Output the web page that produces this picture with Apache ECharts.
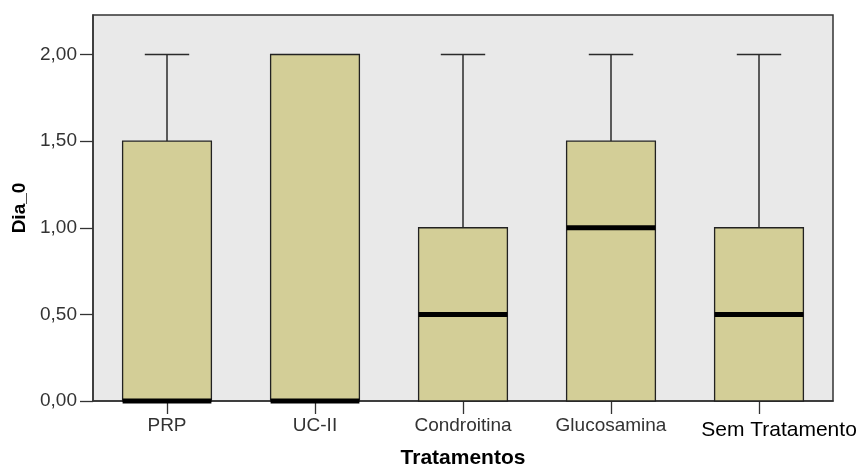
<!DOCTYPE html>
<html>
<head>
<meta charset="utf-8">
<script src="https://cdn.jsdelivr.net/npm/echarts@6/dist/echarts.min.js"></script>
<style>
  html, body { margin: 0; padding: 0; background: #ffffff; }
  #chart { width: 861px; height: 464px; }
</style>
</head>
<body>
<div id="chart"></div>
<script>
// Box-plot summary per treatment (Dia_0)
const categories = ['PRP', 'UC-II', 'Condroitina', 'Glucosamina', 'Sem Tratamento'];
const minVals    = [0, 0, 0, 0, 0];
const q1Vals     = [0, 0, 0, 0, 0];
const medianVals = [0, 0, 0.5, 1, 0.5];
const q3Vals     = [1.5, 2, 1, 1.5, 1];
const maxVals    = [2, 2, 2, 2, 2];
const yTicks     = [0, 0.5, 1, 1.5, 2];

const boxData = categories.map((c, i) => [i, minVals[i], q1Vals[i], medianVals[i], q3Vals[i], maxVals[i]]);

const FILL = '#d3ce97';
const EDGE = '#222222';

function renderBox(params, api) {
  const i = api.value(0);
  const vMin = api.value(1), vQ1 = api.value(2), vMed = api.value(3), vQ3 = api.value(4), vMax = api.value(5);
  const bandW = api.size([1, 0])[0];
  const boxW = bandW * 0.6;
  const capW = boxW * 0.5;
  const cx = api.coord([i, 0])[0];
  const yMin = api.coord([i, vMin])[1];
  const yQ1 = api.coord([i, vQ1])[1];
  const yMed = api.coord([i, vMed])[1];
  const yQ3 = api.coord([i, vQ3])[1];
  const yMax = api.coord([i, vMax])[1];
  const whisker = { stroke: '#2a2a2a', lineWidth: 1.5 };
  const children = [];
  if (vMax > vQ3) {
    children.push({ type: 'line', shape: { x1: cx, y1: yQ3, x2: cx, y2: yMax }, style: whisker });
    children.push({ type: 'line', shape: { x1: cx - capW / 2, y1: yMax, x2: cx + capW / 2, y2: yMax }, style: whisker });
  }
  if (vMin < vQ1) {
    children.push({ type: 'line', shape: { x1: cx, y1: yQ1, x2: cx, y2: yMin }, style: whisker });
    children.push({ type: 'line', shape: { x1: cx - capW / 2, y1: yMin, x2: cx + capW / 2, y2: yMin }, style: whisker });
  }
  children.push({
    type: 'rect',
    shape: { x: cx - boxW / 2, y: yQ3, width: boxW, height: yQ1 - yQ3 },
    style: { fill: FILL, stroke: EDGE, lineWidth: 1.3 }
  });
  children.push({
    type: 'line',
    shape: { x1: cx - boxW / 2, y1: yMed, x2: cx + boxW / 2, y2: yMed },
    style: { stroke: '#000000', lineWidth: 5 }
  });
  return { type: 'group', children: children };
}

const chart = echarts.init(document.getElementById('chart'), null, { renderer: 'canvas' });
chart.setOption({
  animation: false,
  backgroundColor: '#ffffff',
  grid: {
    left: 93, right: 28, top: 15, bottom: 63,
    containLabel: false,
    outerBoundsMode: 'none',
    show: true, backgroundColor: '#e9e9e9', borderColor: '#333333', borderWidth: 1.5
  },
  xAxis: {
    type: 'category',
    data: categories,
    boundaryGap: true,
    name: 'Tratamentos',
    nameLocation: 'middle',
    nameGap: 47,
    nameTextStyle: { fontFamily: 'Liberation Sans', fontSize: 21, fontWeight: 'bold', color: '#000000' },
    axisLine: { show: true, lineStyle: { color: '#333333', width: 1.5 } },
    axisTick: { show: true, alignWithLabel: true, length: 13, lineStyle: { color: '#333333', width: 1.3 } },
    axisLabel: {
      interval: 0,
      hideOverlap: false,
      margin: 15,
      fontFamily: 'Liberation Sans',
      fontSize: 19,
      color: '#333333',
      formatter: function (v) { return v === 'Sem Tratamento' ? '{s|' + v + '}' : v; },
      rich: {
        s: { fontFamily: 'Liberation Sans', fontSize: 21, color: '#000000', padding: [4, 0, 0, 40] }
      }
    },
    splitLine: { show: false }
  },
  yAxis: {
    type: 'value',
    min: 0,
    max: 2.228,
    interval: 0.5,
    name: 'Dia_0',
    nameLocation: 'middle',
    nameGap: 63,
    nameRotate: 90,
    nameTextStyle: { fontFamily: 'Liberation Sans', fontSize: 19, fontWeight: 'bold', color: '#000000' },
    axisLine: { show: true, lineStyle: { color: '#333333', width: 1.5 } },
    axisTick: { show: true, length: 13, customValues: yTicks, lineStyle: { color: '#333333', width: 1.3 } },
    axisLabel: {
      margin: 16,
      customValues: yTicks,
      fontFamily: 'Liberation Sans',
      fontSize: 19,
      color: '#333333',
      formatter: function (v) { return v.toFixed(2).replace('.', ','); }
    },
    splitLine: { show: false }
  },
  series: [{
    type: 'custom',
    renderItem: renderBox,
    data: boxData,
    encode: { x: 0, y: [1, 2, 3, 4, 5] },
    clip: false
  }]
});
</script>
</body>
</html>
